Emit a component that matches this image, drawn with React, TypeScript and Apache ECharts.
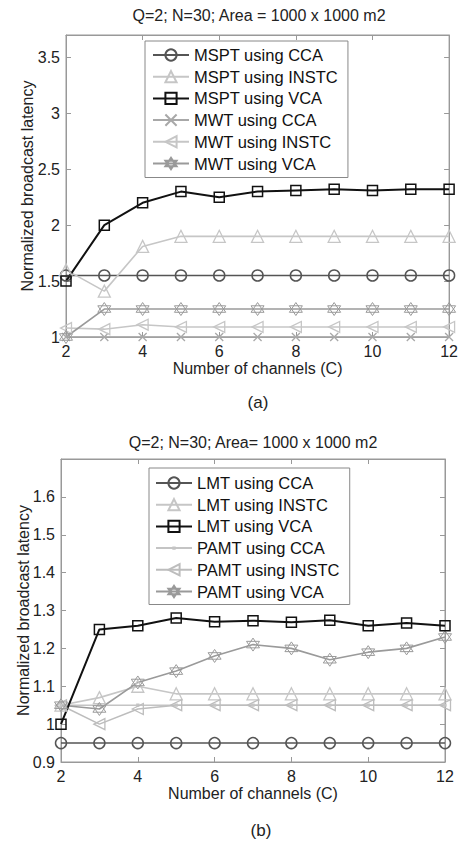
import React, { useEffect, useRef } from "react";
import * as echarts from "echarts";

const channels = [2, 3, 4, 5, 6, 7, 8, 9, 10, 11, 12];

// (a)
const msptCCA = [1.55, 1.55, 1.55, 1.55, 1.55, 1.55, 1.55, 1.55, 1.55, 1.55, 1.55];
const msptINSTC = [1.6, 1.41, 1.81, 1.9, 1.9, 1.9, 1.9, 1.9, 1.9, 1.9, 1.9];
const msptVCA = [1.5, 2.0, 2.2, 2.3, 2.25, 2.3, 2.31, 2.32, 2.31, 2.32, 2.32];
const mwtCCA = [1, 1, 1, 1, 1, 1, 1, 1, 1, 1, 1];
const mwtINSTC = [1.08, 1.07, 1.11, 1.09, 1.09, 1.09, 1.09, 1.09, 1.09, 1.09, 1.09];
const mwtVCA = [1.0, 1.25, 1.25, 1.25, 1.25, 1.25, 1.25, 1.25, 1.25, 1.25, 1.25];

// (b)
const lmtCCA = [0.95, 0.95, 0.95, 0.95, 0.95, 0.95, 0.95, 0.95, 0.95, 0.95, 0.95];
const lmtINSTC = [1.05, 1.07, 1.1, 1.08, 1.08, 1.08, 1.08, 1.08, 1.08, 1.08, 1.08];
const lmtVCA = [1.0, 1.25, 1.26, 1.28, 1.27, 1.273, 1.269, 1.274, 1.26, 1.267, 1.26];
const pamtCCA = [1.05, 1.05, 1.05, 1.05, 1.05, 1.05, 1.05, 1.05, 1.05, 1.05, 1.05];
const pamtINSTC = [1.05, 1.0, 1.04, 1.05, 1.05, 1.05, 1.05, 1.05, 1.05, 1.05, 1.05];
const pamtVCA = [1.05, 1.04, 1.11, 1.14, 1.18, 1.21, 1.2, 1.17, 1.19, 1.2, 1.23];

const FONT = "Liberation Sans";

const SYM = {
  circle: { symbol: "circle", size: 11, bw: 1.5 },
  triangle: { symbol: "triangle", size: 12, bw: 1.3 },
  square: { symbol: "rect", size: 10, bw: 1.5 },
  cross: { symbol: "path://M0,0L10,10M10,0L0,10", size: 8, bw: 1.3 },
  leftTri: { symbol: "path://M0,5L10,0L10,10Z", size: 11, bw: 1.3 },
  hexagram: { symbol: "path://M5,0L9.33,7.5L0.67,7.5ZM5,10L0.67,2.5L9.33,2.5Z", size: 13, bw: 1 },
  dot: { symbol: "path://M0,0L0,0ZM10,10L10,10ZM3.5,3.5L6.5,3.5L6.5,6.5L3.5,6.5Z", size: 11, bw: 0 },
};

function mk(name: string, data: number[], color: string, sym: { symbol: string; size: number; bw: number }, idx: number, width = 1.6, filled = false) {
  return {
    type: "line",
    name,
    xAxisIndex: idx,
    yAxisIndex: idx,
    data: channels.map((c, i) => [c, data[i]]),
    symbol: sym.symbol,
    symbolSize: sym.size,
    showAllSymbol: true,
    color,
    lineStyle: { color, width },
    itemStyle: { color: filled ? color : "transparent", borderColor: color, borderWidth: sym.bw },
    emphasis: { disabled: true },
  };
}

function axesFor(gridIndex: number, ymin: number, ymax: number, yint: number, labelMargin: number, nameGapX: number, nameGapY: number) {
  const line = { show: true, lineStyle: { color: "#999", width: 1 } };
  const tick = { show: true, inside: true, length: 5, lineStyle: { color: "#999" } };
  const label = { color: "#222", fontSize: 16, fontFamily: FONT, margin: labelMargin };
  const xs = [
    {
      type: "value", gridIndex, min: 2, max: 12, interval: 2, position: "bottom",
      axisLine: line, axisTick: tick, splitLine: { show: false }, axisLabel: label,
      name: "Number of channels (C)", nameLocation: "middle", nameGap: nameGapX, nameMoveOverlap: false,
      nameTextStyle: { color: "#222", fontSize: 16, fontFamily: FONT },
    },
    {
      type: "value", gridIndex, min: 2, max: 12, interval: 2, position: "top",
      axisLine: line, axisTick: tick, splitLine: { show: false }, axisLabel: { show: false },
    },
  ];
  const ys = [
    {
      type: "value", gridIndex, min: ymin, max: ymax, interval: yint, position: "left",
      axisLine: line, axisTick: tick, splitLine: { show: false },
      axisLabel: { ...label, showMaxLabel: false, formatter: (v: number) => String(+v.toFixed(2)) },
      name: "Normalized broadcast latency", nameLocation: "middle", nameGap: nameGapY, nameMoveOverlap: false,
      nameTextStyle: { color: "#222", fontSize: 16, fontFamily: FONT },
    },
    {
      type: "value", gridIndex, min: ymin, max: ymax, interval: yint, position: "right",
      axisLine: line, axisTick: tick, splitLine: { show: false }, axisLabel: { show: false },
    },
  ];
  return { xs, ys };
}

export default function App() {
  const ref = useRef<HTMLDivElement>(null);
  useEffect(() => {
    if (!ref.current) return;
    const chart = echarts.init(ref.current, null, { renderer: "svg" });
    const a = axesFor(0, 1, 3.7, 0.5, 6, 23, 31);
    const b = axesFor(1, 0.9, 1.7, 0.1, 6, 23, 30);

    const seriesA = [
      mk("MSPT using CCA", msptCCA, "#555555", SYM.circle, 0),
      mk("MSPT using INSTC", msptINSTC, "#c6c6c6", SYM.triangle, 0),
      mk("MWT using CCA", mwtCCA, "#a8a8a8", SYM.cross, 0),
      mk("MWT using INSTC", mwtINSTC, "#c6c6c6", SYM.leftTri, 0),
      mk("MWT using VCA", mwtVCA, "#9a9a9a", SYM.hexagram, 0),
      mk("MSPT using VCA", msptVCA, "#111111", SYM.square, 0, 2),
    ];
    const seriesB = [
      mk("LMT using CCA", lmtCCA, "#555555", SYM.circle, 2),
      mk("PAMT using CCA", pamtCCA, "#c4c4c4", SYM.dot, 2, 1.6, true),
      mk("LMT using INSTC", lmtINSTC, "#c6c6c6", SYM.triangle, 2),
      mk("PAMT using INSTC", pamtINSTC, "#bdbdbd", SYM.leftTri, 2),
      mk("PAMT using VCA", pamtVCA, "#9a9a9a", SYM.hexagram, 2),
      mk("LMT using VCA", lmtVCA, "#111111", SYM.square, 2, 2),
    ];

    const legendCommon = {
      orient: "vertical",
      backgroundColor: "#fff",
      borderColor: "#888",
      borderWidth: 1,
      itemWidth: 36,
      itemHeight: 14,
      itemGap: 1.7,
      selectedMode: false,
      textStyle: { color: "#111", fontSize: 16.5, fontFamily: FONT, lineHeight: 20 },
    };

    chart.setOption({
      animation: false,
      backgroundColor: "#fff",
      grid: [
        { left: 66, top: 35, width: 386, height: 302, show: true, borderColor: "#999", borderWidth: 1 },
        { left: 61, top: 459, width: 384, height: 303, show: true, borderColor: "#999", borderWidth: 1 },
      ],
      xAxis: [...a.xs, ...b.xs],
      yAxis: [...a.ys, ...b.ys],
      legend: [
        {
          ...legendCommon,
          left: 145, top: 41,
          padding: [4, 10, 4, 7],
          data: ["MSPT using CCA", "MSPT using INSTC", "MSPT using VCA", "MWT using CCA", "MWT using INSTC", "MWT using VCA"],
        },
        {
          ...legendCommon,
          left: 149, top: 468,
          padding: [5, 10, 3, 6],
          data: ["LMT using CCA", "LMT using INSTC", "LMT using VCA", "PAMT using CCA", "PAMT using INSTC", "PAMT using VCA"],
        },
      ],
      graphic: [
        { type: "text", x: 259, y: 15, style: { text: "Q=2; N=30; Area = 1000 x 1000 m2", fontSize: 16, fontFamily: FONT, fill: "#222", textAlign: "center", textVerticalAlign: "middle" } },
        { type: "text", x: 258, y: 402, style: { text: "(a)", fontSize: 17, fontFamily: FONT, fill: "#222", textAlign: "center", textVerticalAlign: "middle" } },
        { type: "text", x: 253, y: 442, style: { text: "Q=2; N=30; Area= 1000 x 1000 m2", fontSize: 16, fontFamily: FONT, fill: "#222", textAlign: "center", textVerticalAlign: "middle" } },
        { type: "text", x: 261, y: 830, style: { text: "(b)", fontSize: 17, fontFamily: FONT, fill: "#222", textAlign: "center", textVerticalAlign: "middle" } },
      ],
      series: [...seriesA, ...seriesB],
    });
    return () => chart.dispose();
  }, []);
  return <div ref={ref} style={{ position: "absolute", left: 0, top: 0, width: 461, height: 845 }} />;
}
